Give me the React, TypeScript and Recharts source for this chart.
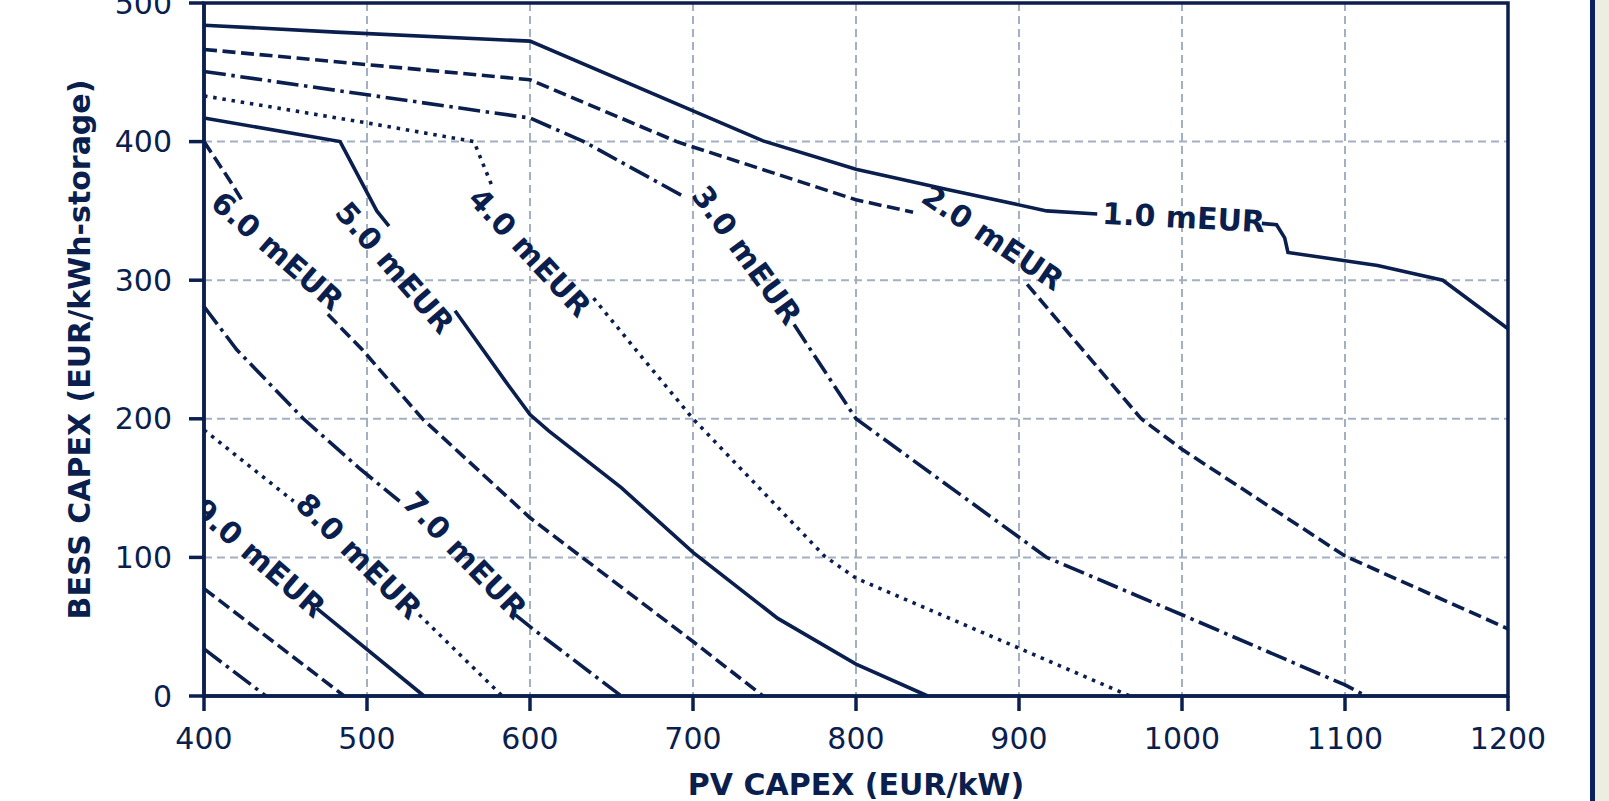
import { LineChart, Line, XAxis, YAxis, CartesianGrid, ReferenceArea, ReferenceDot } from "recharts"

const NAVY = "#0b1f4e"
const GRID = "#a2b0c2"
const FONT = "DejaVu Sans"

const pvTicks = [400, 500, 600, 700, 800, 900, 1000, 1100, 1200]
const bessTicks = [0, 100, 200, 300, 400, 500]

// contour segments (PV CAPEX x, BESS CAPEX y), broken where the inline labels sit
const lvl1a = [
  { x: 400, y: 484 }, { x: 481, y: 479 }, { x: 600, y: 472.5 }, { x: 743, y: 400.5 },
  { x: 800, y: 380 }, { x: 856, y: 365.5 }, { x: 917, y: 350 }, { x: 948, y: 347.8 },
]
const lvl1b = [
  { x: 1049, y: 341 }, { x: 1058, y: 340 }, { x: 1063, y: 330.5 }, { x: 1065, y: 320 },
  { x: 1120, y: 310.6 }, { x: 1160, y: 300 }, { x: 1200, y: 265 },
]
const lvl2a = [
  { x: 400, y: 466.5 }, { x: 600, y: 444.6 }, { x: 690, y: 400 }, { x: 800, y: 358 }, { x: 835, y: 349 },
]
const lvl2b = [
  { x: 905, y: 297 }, { x: 975, y: 200 }, { x: 1000, y: 178 }, { x: 1100, y: 101 }, { x: 1200, y: 48.5 },
]
const lvl3a = [
  { x: 400, y: 450.6 }, { x: 600, y: 417 }, { x: 633, y: 400 }, { x: 695.5, y: 359.6 },
]
const lvl3b = [
  { x: 762, y: 268 }, { x: 800, y: 200 }, { x: 917, y: 100 }, { x: 1000, y: 58.6 },
  { x: 1100, y: 8 }, { x: 1113, y: 0 },
]
const lvl4a = [
  { x: 400, y: 433 }, { x: 500, y: 413.5 }, { x: 565.6, y: 400 }, { x: 577, y: 367 },
]
const lvl4b = [
  { x: 639, y: 287 }, { x: 669, y: 244 }, { x: 700, y: 200 }, { x: 780.6, y: 101 },
  { x: 800, y: 85 }, { x: 900, y: 34.5 }, { x: 968, y: 0 },
]
const lvl5a = [
  { x: 400, y: 417 }, { x: 483.5, y: 400 }, { x: 506, y: 350 }, { x: 513.5, y: 339 },
]
const lvl5b = [
  { x: 554, y: 278 }, { x: 585, y: 227 }, { x: 600, y: 203 }, { x: 611.5, y: 191.3 },
  { x: 656, y: 150.3 }, { x: 700, y: 103.6 }, { x: 752, y: 56 }, { x: 800, y: 23 }, { x: 844, y: 0 },
]
const lvl6a = [{ x: 400, y: 400 }, { x: 416, y: 371.6 }, { x: 424.7, y: 355 }]
const lvl6b = [
  { x: 476, y: 275.4 }, { x: 497, y: 250 }, { x: 534, y: 200 }, { x: 600, y: 128.6 },
  { x: 700, y: 39.3 }, { x: 743, y: 0 },
]
const lvl7a = [
  { x: 400, y: 281 }, { x: 420, y: 250 }, { x: 461, y: 200 }, { x: 495, y: 164.6 }, { x: 520, y: 140.5 },
]
const lvl7b = [{ x: 591, y: 58.6 }, { x: 600, y: 50 }, { x: 656, y: 0 }]
const lvl8a = [{ x: 400, y: 192 }, { x: 455, y: 140.5 }]
const lvl8b = [{ x: 532, y: 58.6 }, { x: 583, y: 0 }]
const lvl9b = [{ x: 469, y: 63.4 }, { x: 535, y: 0 }]
const lvl10 = [{ x: 400, y: 77.5 }, { x: 486, y: 0 }]
const lvl11 = [{ x: 400, y: 34 }, { x: 438, y: 0 }]

const levels = [1, 2, 3, 4, 5, 6, 7, 8, 9, 10, 11]
const levelSegments = [
  [lvl1a, lvl1b], [lvl2a, lvl2b], [lvl3a, lvl3b], [lvl4a, lvl4b], [lvl5a, lvl5b],
  [lvl6a, lvl6b], [lvl7a, lvl7b], [lvl8a, lvl8b], [lvl9b], [lvl10], [lvl11],
]

const labelText = ["1.0 mEUR", "2.0 mEUR", "3.0 mEUR", "4.0 mEUR", "5.0 mEUR", "6.0 mEUR", "7.0 mEUR", "8.0 mEUR", "9.0 mEUR"]
const labelPv = [1001, 884, 733, 600, 517, 445, 560, 495, 434]
const labelBess = [345.3, 330.6, 318, 320, 309, 321, 101.5, 101, 99.5]
const labelAngle = [3, 34, 54, 47, 49, 41, 46, 45, 41]

const dashes = [undefined, "13 5.6", "22 5.6 3.5 5.6", "3.5 5.8"]

// plot box in pixels (margin.left + y axis width, margin.top, inner size)
const PLOT = { x: 204, y: 3, w: 1304, h: 693 }

export default function App() {
  return (
    <div style={{ position: "absolute", left: 0, top: 0, width: 1609, height: 801, background: "#fff" }}>
      <LineChart width={1609} height={801} margin={{ top: 3, right: 101, bottom: 0, left: 0 }}>
        <defs>
          <clipPath id="plot-clip">
            <rect x={PLOT.x} y={PLOT.y} width={PLOT.w} height={PLOT.h} />
          </clipPath>
        </defs>
        <CartesianGrid stroke={GRID} strokeDasharray="8 5" strokeWidth={2} />
        <XAxis
          dataKey="x"
          type="number"
          domain={[400, 1200]}
          ticks={pvTicks}
          interval={0}
          height={105}
          tickSize={15}
          tickMargin={17}
          tick={{ fill: NAVY, fontSize: 30, fontFamily: FONT }}
          axisLine={{ stroke: NAVY, strokeWidth: 3.5 }}
          tickLine={{ stroke: NAVY, strokeWidth: 3.5 }}
          label={{
            content: (p: any) => (
              <text
                x={p.viewBox.x + p.viewBox.width / 2}
                y={795}
                textAnchor="middle"
                fill={NAVY}
                fontSize={30}
                fontWeight="bold"
                fontFamily={FONT}
              >
                PV CAPEX (EUR/kW)
              </text>
            ),
          }}
        />
        <YAxis
          type="number"
          domain={[0, 500]}
          ticks={bessTicks}
          interval={0}
          width={204}
          tickSize={15}
          tickMargin={17}
          tick={{ fill: NAVY, fontSize: 30, fontFamily: FONT }}
          axisLine={{ stroke: NAVY, strokeWidth: 3.5 }}
          tickLine={{ stroke: NAVY, strokeWidth: 3.5 }}
          label={{
            content: (p: any) => {
              const cy = p.viewBox.y + p.viewBox.height / 2
              return (
                <text
                  x={90}
                  y={cy}
                  transform={`rotate(-90 90 ${cy})`}
                  textAnchor="middle"
                  fill={NAVY}
                  fontSize={30}
                  fontWeight="bold"
                  fontFamily={FONT}
                >
                  BESS CAPEX (EUR/kWh-storage)
                </text>
              )
            },
          }}
        />
        <ReferenceArea x1={400} x2={1200} y1={0} y2={500} fill="none" fillOpacity={0} stroke={NAVY} strokeWidth={3.5} ifOverflow="visible" />
        {levels.flatMap((lv, i) =>
          levelSegments[i].map((seg, j) => (
            <Line
              key={`c${lv}-${j}`}
              data={seg}
              dataKey="y"
              type="linear"
              stroke={NAVY}
              strokeWidth={3.6}
              strokeDasharray={dashes[i % 4]}
              dot={false}
              activeDot={false}
              isAnimationActive={false}
            />
          ))
        )}
        {labelText.map((t, i) => (
          <ReferenceDot
            key={t}
            x={labelPv[i]}
            y={labelBess[i]}
            r={0}
            ifOverflow="visible"
            shape={(p: any) => (
              <g clipPath="url(#plot-clip)">
                <text
                  x={p.cx}
                  y={p.cy}
                  transform={`rotate(${labelAngle[i]} ${p.cx} ${p.cy})`}
                  textAnchor="middle"
                  dominantBaseline="central"
                  fill={NAVY}
                  fontSize={30}
                  fontWeight="bold"
                  fontFamily={FONT}
                >
                  {t}
                </text>
              </g>
            )}
          />
        ))}
      </LineChart>
      <div style={{ position: "absolute", left: 1590, top: 0, width: 5, height: 801, background: "#0a2260" }} />
      <div style={{ position: "absolute", left: 1595, top: 0, width: 14, height: 801, background: "#ebeee0" }} />
    </div>
  )
}
